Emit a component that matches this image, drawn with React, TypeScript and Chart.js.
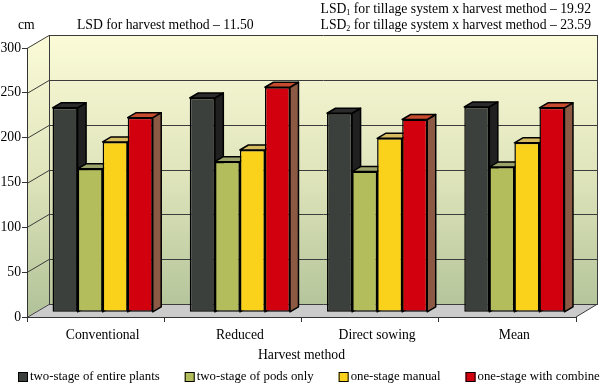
import React, { useEffect, useRef } from 'react';
import { Chart, registerables } from 'chart.js';

Chart.register(...registerables);

// ---- data ----
const categories = ['Conventional', 'Reduced', 'Direct sowing', 'Mean'];
const seriesLabels = [
  'two-stage of entire plants',
  'two-stage of pods only',
  'one-stage manual',
  'one-stage with combine',
];
const twoStageEntire = [228, 239, 222, 229];
const twoStagePods = [160, 168, 157, 162];
const oneStageManual = [190, 181, 194, 189];
const oneStageCombine = [217, 251, 215, 228];
const yTickValues = [0, 50, 100, 150, 200, 250, 300];
const axisTitle = 'Harvest method';
const unitLabel = 'cm';
const lsdMain = 'LSD for harvest method – 11.50';
const lsd1Rest = ' for tillage system x harvest method – 19.92';
const lsd2Rest = ' for tillage system x harvest method – 23.59';

// ---- styles ----
const SERIF = '"Liberation Serif", "Times New Roman", "DejaVu Serif", serif';
const frontColors = ['#3b403c', '#b3bd5b', '#fad21c', '#d2000e'];
const topColors = ['#2a2b2a', '#9ba36a', '#d6bc5e', '#c74b2e'];
const sideColors = ['#1f201f', '#8a934a', '#c8a418', '#8c5a44'];

const DX = 22; // wall depth (x)
const DY = 13; // wall depth (y)
const OX = 7; // bar row offset
const OY = 4.7;
const BX = 8.5; // bar depth
const BY = 5;

const threeD = {
  id: 'threeD',
  beforeDraw(chart: any) {
    const { ctx, chartArea: a, scales } = chart;
    const ys = scales.y;
    ctx.save();
    const g = ctx.createLinearGradient(0, a.top - DY, 0, a.bottom);
    g.addColorStop(0, '#fbfbd8');
    g.addColorStop(0.5, '#dfe4bb');
    g.addColorStop(1, '#b1c298');
    ctx.fillStyle = g;
    // left wall
    ctx.beginPath();
    ctx.moveTo(a.left, a.top);
    ctx.lineTo(a.left + DX, a.top - DY);
    ctx.lineTo(a.left + DX, a.bottom - DY);
    ctx.lineTo(a.left, a.bottom);
    ctx.closePath();
    ctx.fill();
    // back wall
    ctx.fillRect(a.left + DX, a.top - DY, a.right - a.left, a.bottom - a.top);
    // floor
    ctx.beginPath();
    ctx.moveTo(a.left, a.bottom);
    ctx.lineTo(a.left + DX, a.bottom - DY);
    ctx.lineTo(a.right + DX, a.bottom - DY);
    ctx.lineTo(a.right, a.bottom);
    ctx.closePath();
    ctx.fillStyle = '#cbcbcb';
    ctx.fill();
    // grid lines on the walls
    ctx.strokeStyle = '#3c3c3c';
    ctx.lineWidth = 1;
    for (const v of yTickValues) {
      const y = Math.round(ys.getPixelForValue(v)) + 0.5;
      ctx.beginPath();
      ctx.moveTo(a.left, y);
      ctx.lineTo(a.left + DX, y - DY);
      ctx.lineTo(a.right + DX, y - DY);
      ctx.stroke();
    }
    // wall edges
    ctx.beginPath();
    const lx = Math.round(a.left + DX) + 0.5;
    const rx = Math.round(a.right + DX) - 0.5;
    ctx.moveTo(lx, a.top - DY);
    ctx.lineTo(lx, a.bottom - DY);
    ctx.moveTo(rx, a.top - DY);
    ctx.lineTo(rx, a.bottom - DY);
    ctx.lineTo(a.right, a.bottom);
    ctx.stroke();
    ctx.restore();
  },
  beforeDatasetsDraw(chart: any) {
    const ctx = chart.ctx;
    ctx.save();
    ctx.translate(OX, -OY);
    chart.data.datasets.forEach((_ds: any, i: number) => {
      const meta = chart.getDatasetMeta(i);
      meta.data.forEach((bar: any) => {
        const { x, y, base, width } = bar.getProps(['x', 'y', 'base', 'width'], true);
        const l = x - width / 2;
        const r = x + width / 2;
        ctx.lineWidth = 1.5;
        ctx.strokeStyle = '#000';
        ctx.lineJoin = 'round';
        // side face
        ctx.beginPath();
        ctx.moveTo(r, base);
        ctx.lineTo(r, y);
        ctx.lineTo(r + BX, y - BY);
        ctx.lineTo(r + BX, base - BY);
        ctx.closePath();
        ctx.fillStyle = sideColors[i];
        ctx.fill();
        ctx.stroke();
        // top face
        ctx.beginPath();
        ctx.moveTo(l, y);
        ctx.lineTo(l + BX, y - BY);
        ctx.lineTo(r + BX, y - BY);
        ctx.lineTo(r, y);
        ctx.closePath();
        ctx.fillStyle = topColors[i];
        ctx.fill();
        ctx.stroke();
      });
    });
  },
  afterDatasetsDraw(chart: any) {
    chart.ctx.restore();
  },
  afterDraw(chart: any) {
    const ctx = chart.ctx;
    ctx.save();
    ctx.fillStyle = '#000';
    ctx.textBaseline = 'middle';
    ctx.font = `13.7px ${SERIF}`;
    ctx.textAlign = 'left';
    ctx.fillText(unitLabel, 18, 25);
    ctx.fillText(lsdMain, 77, 25);
    // LSD with subscripts, right aligned
    const drawLsd = (sub: string, rest: string, yC: number) => {
      ctx.font = `13.7px ${SERIF}`;
      const w1 = ctx.measureText('LSD').width;
      const w3 = ctx.measureText(rest).width;
      ctx.font = `8px ${SERIF}`;
      const w2 = ctx.measureText(sub).width;
      const x0 = 591 - (w1 + w2 + w3);
      ctx.font = `13.7px ${SERIF}`;
      ctx.fillText('LSD', x0, yC);
      ctx.font = `8px ${SERIF}`;
      ctx.fillText(sub, x0 + w1, yC + 4);
      ctx.font = `13.7px ${SERIF}`;
      ctx.fillText(rest, x0 + w1 + w2, yC);
    };
    drawLsd('1', lsd1Rest, 9);
    drawLsd('2', lsd2Rest, 25);
    // legend
    ctx.font = `12.8px ${SERIF}`;
    let x = 18;
    const yC = 377;
    seriesLabels.forEach((lab, i) => {
      ctx.fillStyle = frontColors[i];
      ctx.fillRect(x, yC - 5, 10, 10);
      ctx.strokeStyle = '#000';
      ctx.lineWidth = 1;
      ctx.strokeRect(x + 0.5, yC - 4.5, 9, 9);
      ctx.fillStyle = '#000';
      ctx.fillText(lab, x + 12, yC);
      x += 12 + ctx.measureText(lab).width + 25;
    });
    ctx.restore();
  },
};

export default function App() {
  const ref = useRef<HTMLCanvasElement>(null);
  useEffect(() => {
    if (!ref.current) return;
    const datasets = [twoStageEntire, twoStagePods, oneStageManual, oneStageCombine].map((d, i) => ({
      label: seriesLabels[i],
      data: d,
      backgroundColor: frontColors[i],
      borderColor: '#000',
      borderWidth: 1.5,
      borderSkipped: false as const,
      barPercentage: 1,
      categoryPercentage: 0.73,
      clip: false as const,
    }));
    const chart = new Chart(ref.current, {
      type: 'bar',
      data: { labels: categories, datasets },
      options: {
        animation: false,
        responsive: true,
        maintainAspectRatio: false,
        layout: { padding: { top: 48, right: 24, left: 0, bottom: 20 } },
        plugins: { legend: { display: false }, tooltip: { enabled: false } },
        scales: {
          y: {
            min: 0,
            max: 300,
            afterBuildTicks: (s: any) => {
              s.ticks = yTickValues.map((v) => ({ value: v }));
            },
            afterFit: (s: any) => {
              s.width = 27;
            },
            ticks: { color: '#000', font: { family: SERIF, size: 13.7 }, padding: 1 },
            grid: { drawOnChartArea: false, tickLength: 5, color: '#333' },
            border: { color: '#333', width: 1 },
          },
          x: {
            afterFit: (s: any) => {
              s.height = 47;
            },
            ticks: { color: '#000', font: { family: SERIF, size: 13.7 }, padding: 5, labelOffset: 7 },
            grid: { drawOnChartArea: false, tickLength: 5, color: '#333', offset: true },
            border: { color: '#333', width: 1 },
            title: {
              display: true,
              text: axisTitle,
              color: '#000',
              font: { family: SERIF, size: 13.7 },
              padding: { top: 2, bottom: 0 },
            },
          },
        },
      },
      plugins: [threeD],
    });
    return () => chart.destroy();
  }, []);
  return (
    <div style={{ position: 'fixed', left: 0, top: 0, width: 600, height: 384, background: '#fff' }}>
      <canvas ref={ref} />
    </div>
  );
}
